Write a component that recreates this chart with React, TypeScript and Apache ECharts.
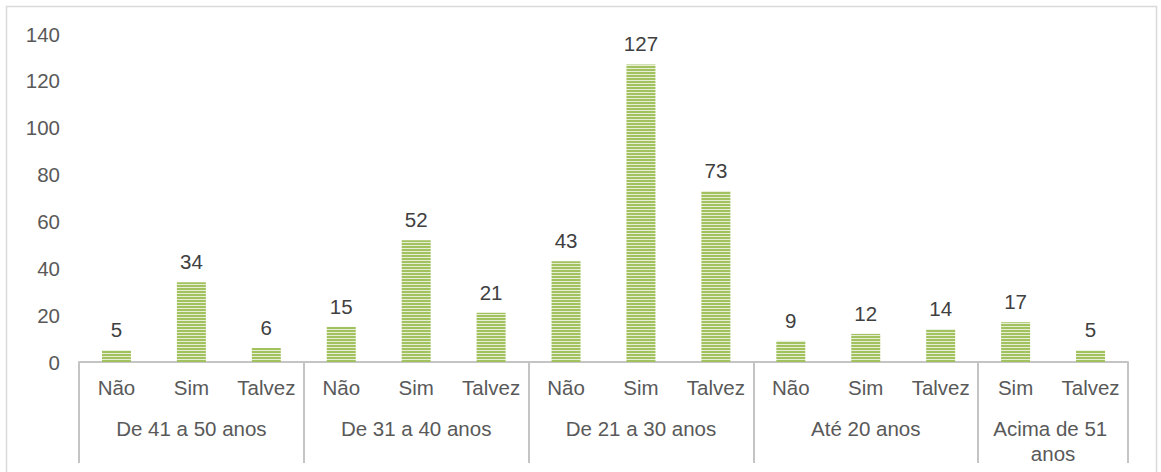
import React, { useEffect, useRef } from "react";
import * as echarts from "echarts";

const categories = ["Não", "Sim", "Talvez", "Não", "Sim", "Talvez", "Não", "Sim", "Talvez", "Não", "Sim", "Talvez", "Sim", "Talvez"];
const values = [5, 34, 6, 15, 52, 21, 43, 127, 73, 9, 12, 14, 17, 5];
const groups = ["De 41 a 50 anos", "De 31 a 40 anos", "De 21 a 30 anos", "Até 20 anos", "Acima de 51 anos"];
const groupSizes = [3, 3, 3, 3, 2];
const yTicks = { min: 0, max: 140, interval: 20 };

export default function App() {
  const ref = useRef<HTMLDivElement>(null);
  useEffect(() => {
    document.body.style.margin = "0";
    if (!ref.current) return;
    const chart = echarts.init(ref.current, null, { renderer: "svg" });

    const canvas = document.createElement("canvas");
    canvas.width = 4;
    canvas.height = 3;
    const ctx = canvas.getContext("2d")!;
    ctx.fillStyle = "#a2c25f";
    ctx.fillRect(0, 0, 4, 3);
    ctx.fillStyle = "#e6eed6";
    ctx.fillRect(0, 2, 4, 1);

    const bounds: number[] = [0];
    const centers: number[] = [];
    groupSizes.forEach((s) => {
      const start = bounds[bounds.length - 1];
      centers.push(start + s / 2);
      bounds.push(start + s);
    });
    const total = bounds[bounds.length - 1];

    const font = "Liberation Sans, Arial, sans-serif";
    const axisColor = "#c4c4c4";

    chart.setOption({
      animation: false,
      graphic: [
        {
          type: "rect",
          shape: { x: 6.5, y: 6.5, width: 1150, height: 520 },
          style: { fill: "none", stroke: "#d9d9d9", lineWidth: 1.5 },
          silent: true,
        },
      ],
      grid: { left: 79, right: 33, top: 34, bottom: 110 },
      xAxis: [
        {
          type: "category",
          data: categories,
          position: "bottom",
          axisLine: { show: true, lineStyle: { color: axisColor, width: 2 } },
          axisTick: { show: false },
          axisLabel: { interval: 0, margin: 15, fontSize: 20.5, color: "#595959", fontFamily: font },
          splitLine: { show: false },
        },
        {
          type: "value",
          min: 0,
          max: total,
          position: "bottom",
          axisLine: { show: false },
          splitLine: { show: false },
          axisTick: {
            show: true,
            customValues: bounds,
            length: 101,
            lineStyle: { color: axisColor, width: 2 },
          },
          axisLabel: {
            customValues: centers,
            margin: 54,
            fontSize: 20.5,
            color: "#595959",
            fontFamily: font,
            width: 158,
            overflow: "break",
            lineHeight: 25,
            formatter: (v: number) => {
              const i = centers.findIndex((c) => Math.abs(c - v) < 1e-6);
              return i >= 0 ? groups[i] : "";
            },
          },
        },
      ],
      yAxis: {
        type: "value",
        min: yTicks.min,
        max: yTicks.max,
        interval: yTicks.interval,
        axisLine: { show: false },
        axisTick: { show: false },
        splitLine: { show: false },
        axisLabel: { margin: 19, fontSize: 20.5, color: "#595959", fontFamily: font },
      },
      series: [
        {
          type: "bar",
          data: values,
          xAxisIndex: 0,
          barWidth: 29,
          itemStyle: { color: { image: canvas, repeat: "repeat" } as any },
          label: {
            show: true,
            position: "top",
            distance: 10,
            fontSize: 20.5,
            color: "#404040",
            fontFamily: font,
          },
        },
      ],
    });
    return () => chart.dispose();
  }, []);
  return <div ref={ref} style={{ width: 1161, height: 472 }} />;
}
